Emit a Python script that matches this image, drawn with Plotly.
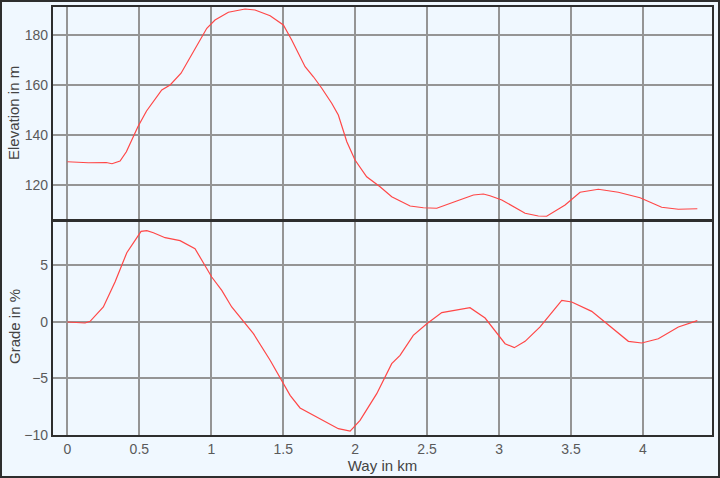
import plotly.graph_objects as go
from plotly.subplots import make_subplots

# Elevation profile
way_elev = [0.0, 0.146, 0.27, 0.31, 0.366, 0.41, 0.49, 0.55, 0.656, 0.714, 0.79, 0.864, 0.969,
            1.026, 1.119, 1.235, 1.304, 1.409, 1.501, 1.559, 1.652, 1.71, 1.768, 1.837, 1.883,
            1.942, 1.999, 2.08, 2.173, 2.254, 2.382, 2.474, 2.567, 2.706, 2.822, 2.891, 2.937,
            3.019, 3.181, 3.273, 3.331, 3.459, 3.563, 3.69, 3.829, 3.98, 4.13, 4.246, 4.378]
elevation = [129.4, 129.0, 129.1, 128.6, 129.7, 133.4, 143.4, 149.7, 158.1, 160.1, 164.8, 172.1, 182.8,
             186.1, 189.2, 190.5, 190.1, 187.8, 184.1, 178.1, 167.4, 163.4, 158.8, 152.8, 148.1,
             137.4, 130.1, 123.4, 119.4, 115.4, 111.7, 111.0, 110.8, 113.7, 116.1, 116.5, 115.8,
             114.1, 108.8, 107.7, 107.6, 112.1, 117.2, 118.4, 117.2, 115.0, 111.2, 110.4, 110.6]

# Grade profile
way_grade = [0.0, 0.123, 0.158, 0.25, 0.331, 0.413, 0.512, 0.552, 0.598, 0.679, 0.783, 0.887,
             1.003, 1.073, 1.142, 1.293, 1.409, 1.501, 1.548, 1.617, 1.71, 1.791, 1.883, 1.965,
             2.034, 2.15, 2.254, 2.312, 2.404, 2.498, 2.602, 2.798, 2.903, 3.042, 3.106, 3.181,
             3.285, 3.436, 3.505, 3.644, 3.76, 3.899, 3.992, 4.107, 4.246, 4.378]
grade = [0.0, -0.09, 0.06, 1.33, 3.54, 6.13, 8.02, 8.08, 7.9, 7.46, 7.2, 6.49,
         3.98, 2.8, 1.33, -1.03, -3.39, -5.46, -6.49, -7.61, -8.26, -8.79, -9.44, -9.65,
         -8.7, -6.34, -3.69, -2.95, -1.18, -0.15, 0.83, 1.27, 0.35, -1.92, -2.27, -1.71,
         -0.44, 1.92, 1.77, 0.94, -0.29, -1.71, -1.86, -1.48, -0.44, 0.12]

x_ticks = [0, 0.5, 1, 1.5, 2, 2.5, 3, 3.5, 4]
x_tick_labels = ["0", "0.5", "1", "1.5", "2", "2.5", "3", "3.5", "4"]
elev_ticks = [120, 140, 160, 180]
grade_ticks = [-10, -5, 0, 5]

LINE = "#ff4747"
GRID = "#959595"
FRAME = "#2e2e2e"
BG = "#f0f8ff"
FONT = "Arial, Liberation Sans, sans-serif"
TITLE_FONT = dict(family=FONT, size=15, color="#444444")

fig = make_subplots(rows=2, cols=1, shared_xaxes=False, vertical_spacing=0.0)
fig.add_trace(go.Scatter(x=way_elev, y=elevation, mode="lines",
                         line=dict(color=LINE, width=1.2), showlegend=False), row=1, col=1)
fig.add_trace(go.Scatter(x=way_grade, y=grade, mode="lines",
                         line=dict(color=LINE, width=1.2), showlegend=False), row=2, col=1)

common_axis = dict(showline=True, mirror=True, linecolor=FRAME, linewidth=2.2,
                   showgrid=True, gridcolor=GRID, gridwidth=1.5, zeroline=False,
                   automargin=False, ticks="",
                   tickfont=dict(family=FONT, size=14, color="#5a5a5a"))

fig.update_xaxes(range=[-0.1, 4.48], tickvals=x_ticks, ticktext=x_tick_labels, **common_axis)
fig.update_xaxes(showticklabels=False, row=1, col=1)
fig.update_xaxes(title=dict(text="Way in km", font=TITLE_FONT, standoff=0), row=2, col=1)
fig.update_yaxes(**common_axis)
fig.update_yaxes(range=[106.5, 191.3], tickvals=elev_ticks, row=1, col=1)
fig.update_yaxes(range=[-10, 8.85], tickvals=grade_ticks, row=2, col=1)

fig.update_layout(
    width=720, height=478,
    margin=dict(l=53, r=8, t=7, b=43, autoexpand=False),
    paper_bgcolor=BG, plot_bgcolor=BG,
    yaxis=dict(domain=[0.5047, 1.0]),
    yaxis2=dict(domain=[0.0, 0.4977]),
    shapes=[dict(type="rect", xref="paper", yref="paper",
                 x0=-52 / 659, x1=1 + 7 / 659,
                 y0=-42 / 428, y1=1 + 6 / 428,
                 line=dict(color=FRAME, width=2), layer="below")],
    annotations=[
        dict(text="Elevation in m", xref="paper", yref="paper",
             x=(14 - 53) / 659, y=(435 - 113) / 428, textangle=-90,
             showarrow=False, font=TITLE_FONT, xanchor="center", yanchor="middle"),
        dict(text="Grade in %", xref="paper", yref="paper",
             x=(14 - 53) / 659, y=(435 - 327) / 428, textangle=-90,
             showarrow=False, font=TITLE_FONT, xanchor="center", yanchor="middle"),
    ],
)

fig.write_html("out.html", config={"displayModeBar": False},
               post_script="document.body.style.margin='0px';document.body.style.overflow='hidden';")
